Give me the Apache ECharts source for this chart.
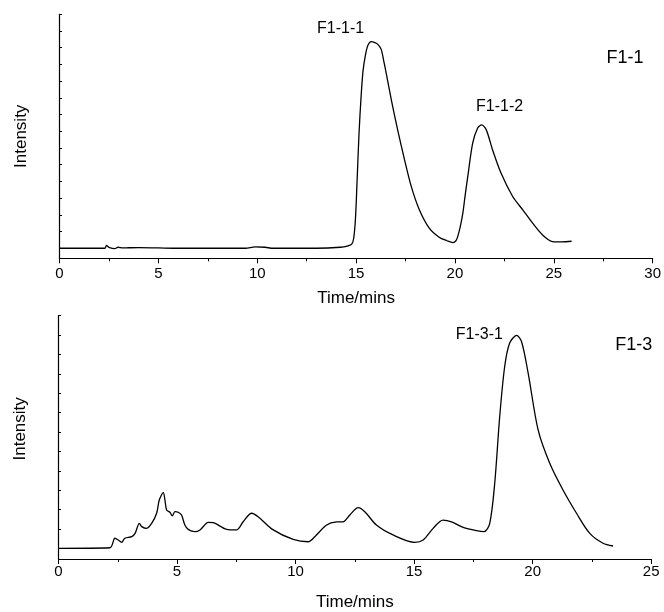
<!DOCTYPE html>
<html>
<head>
<meta charset="utf-8">
<script src="https://cdn.jsdelivr.net/npm/echarts@6/dist/echarts.min.js"></script>
<style>html,body{margin:0;padding:0;background:#fff}#c{width:664px;height:612px}</style>
</head>
<body>
<div id="c"></div>
<script>
// ---- Data ----
// Top panel: F1-1 chromatogram
const topTime = [0,2.3,2.37,2.5,2.79,2.96,3.21,3.5,4,5,6,9.4,9.9,10.4,10.8,13,14.2,14.6,14.78,14.88,14.97,15.05,15.15,15.25,15.35,15.48,15.6,15.77,15.95,16.1,16.27,16.4,16.52,16.78,17.1,17.45,17.79,18.2,18.7,19.2,19.6,19.9,20.05,20.14,20.27,20.4,20.52,20.65,20.9,21.15,21.35,21.58,21.9,22.33,22.92,23.43,23.93,24.43,24.94,25.4,25.9];
const topIntensity = [0,0,0.17,0.06,-0.02,0.06,0.02,0.03,0.04,0.02,0,0,0.08,0.06,0,0,0.06,0.15,0.25,0.6,1.8,4.0,6.9,9.0,10.6,11.6,12.15,12.36,12.3,12.2,11.9,11.2,10.5,8.9,7.1,5.3,3.7,2.3,1.2,0.66,0.45,0.34,0.45,0.7,1.3,2.1,3.2,4.3,6.3,7.2,7.38,7.1,5.9,4.5,3.1,2.3,1.5,0.8,0.4,0.38,0.42];
// Bottom panel: F1-3 chromatogram
const bottomTime = [0,2.17,2.38,2.52,2.66,2.8,3.09,3.23,3.41,3.51,3.72,3.93,4.14,4.25,4.42,4.49,4.56,4.7,4.8,4.91,5.05,5.19,5.33,5.47,5.75,5.97,6.32,6.53,7.09,7.51,7.79,8.15,8.42,9.06,9.9,10.53,10.81,11.31,11.73,12.01,12.29,12.64,12.92,13.41,14.11,15.03,15.38,15.8,16.22,16.58,17.07,17.63,17.95,18.19,18.4,18.61,18.82,19.03,19.32,19.53,19.81,20.23,20.72,21.28,21.85,22.41,22.97,23.39];
const bottomIntensity = [0,0.03,0.52,0.43,0.31,0.52,0.6,0.77,1.29,1.12,1.03,1.29,1.81,2.49,2.87,2.49,1.98,1.86,1.67,1.89,1.86,1.72,1.2,0.98,0.86,0.95,1.34,1.32,0.98,0.95,1.37,1.81,1.63,0.95,0.46,0.34,0.6,1.2,1.36,1.37,1.72,2.1,1.89,1.2,0.69,0.31,0.43,1.03,1.46,1.37,1.08,0.91,0.86,1.29,3.36,6.8,9.38,10.59,10.98,10.67,9.04,6.11,4.39,3.01,1.81,0.77,0.26,0.12];
// Tick values
const topXTicks = [0,5,10,15,20,25,30];
const bottomXTicks = [0,5,10,15,20,25];
const topYTicks = [0,1,2,3,4,5,6,7,8,9,10,11,12,13,14];
const bottomYTicks = [0,1,2,3,4,5,6,7,8,9,10,11,12];
// Annotations
const topLabels = ['F1-1-1','F1-1-2','F1-1'];
const topLabelAt = [[14.22,13.13],[22.26,8.45],[28.6,11.37]];
const bottomLabels = ['F1-3-1','F1-3'];
const bottomLabelAt = [[17.75,11.05],[24.26,10.49]];
const xName = 'Time/mins';
const yName = 'Intensity';

const FONT = '"Liberation Sans", Arial, sans-serif';
const zip = (a,b)=>a.map((v,i)=>[v,b[i]]);

function xAxis(grid, ticks, gap, margin){
  return {
    type:'value', gridIndex:grid, min:ticks[0], max:ticks[ticks.length-1], interval:ticks[1]-ticks[0],
    name:xName, nameLocation:'middle', nameGap:gap,
    nameTextStyle:{fontFamily:FONT,fontSize:17,color:'#000'},
    axisLine:{onZero:false,lineStyle:{color:'#000',width:1.2}},
    axisTick:{show:true,length:5,inside:false,lineStyle:{color:'#000',width:1}},
    minorTick:{show:true,splitNumber:2,length:3,lineStyle:{color:'#000',width:1}},
    axisLabel:{fontFamily:FONT,fontSize:15,color:'#000',margin:margin},
    splitLine:{show:false}
  };
}
function yAxis(grid, min, ticks, pad){
  return {
    type:'value', gridIndex:grid, min:min, max:ticks[ticks.length-1],
    name:yName, nameLocation:'middle', nameGap:30,
    nameTextStyle:{fontFamily:FONT,fontSize:17,color:'#000',padding:pad},
    axisLine:{show:true,onZero:false,lineStyle:{color:'#000',width:1.2}},
    axisTick:{show:true,inside:true,length:2.5,customValues:ticks,lineStyle:{color:'#000',width:1}},
    axisLabel:{show:false},
    splitLine:{show:false}
  };
}
function labels(names, at){
  return {
    symbol:'circle', symbolSize:0, silent:true,
    label:{show:true,position:'inside',formatter:'{b}',fontFamily:FONT,fontSize:16,color:'#000'},
    data:names.map((n,i)=>({name:n,coord:at[i],value:0,
      label:{fontSize: n.length<=4 ? 18 : 16}}))
  };
}

const chart = echarts.init(document.getElementById('c'), null, {renderer:'canvas'});
chart.setOption({
  animation:false,
  backgroundColor:'#fff',
  grid:[
    {left:59.5, top:14.3, width:593.5, height:244},
    {left:58.5, top:315.7, width:592.7, height:243.6}
  ],
  xAxis:[xAxis(0, topXTicks, 32, 8), xAxis(1, bottomXTicks, 35, 5)],
  yAxis:[yAxis(0, -0.6, topYTicks, [0,0,0,0]), yAxis(1, -0.55, bottomYTicks, [0,0,0,17])],
  series:[
    {type:'line', xAxisIndex:0, yAxisIndex:0, data:zip(topTime, topIntensity), showSymbol:false,
     smooth:0.3, lineStyle:{color:'#000',width:1.3}, markPoint:labels(topLabels, topLabelAt)},
    {type:'line', xAxisIndex:1, yAxisIndex:1, data:zip(bottomTime, bottomIntensity), showSymbol:false,
     smooth:0.3, lineStyle:{color:'#000',width:1.3}, markPoint:labels(bottomLabels, bottomLabelAt)}
  ]
});
</script>
</body>
</html>
